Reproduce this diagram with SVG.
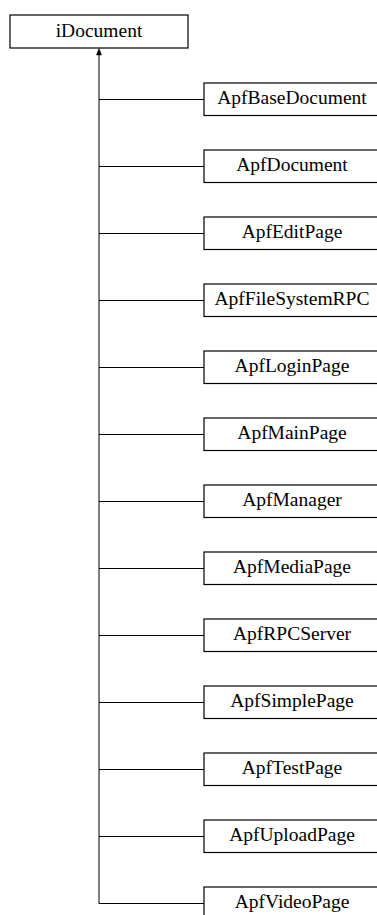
<svg xmlns="http://www.w3.org/2000/svg" width="377" height="915" viewBox="0 0 377 915">
<style>
.box{fill:#fff;stroke:#000;stroke-width:1.2}
.t{font-family:"Liberation Serif","Times New Roman",serif;font-size:19.5px;fill:#000;text-anchor:middle}
.c{stroke:#000;stroke-width:1;fill:none}
.ah{fill:#000;stroke:#000;stroke-width:0.5}
</style>
<g id="connectors">
<path class="c" d="M99,903.5 V54"/>
<polygon class="ah" points="99,48.5 96.5,55 101.5,55"/>
<path class="c" d="M99,99.5 H204 M99,166.5 H204 M99,233.5 H204 M99,300.5 H204 M99,367.5 H204 M99,434.5 H204 M99,501.5 H204 M99,568.5 H204 M99,635.5 H204 M99,702.5 H204 M99,769.5 H204 M99,836.5 H204 M99,903.5 H204"/>
</g>
<g id="iDocument"><rect class="box" x="10" y="15" width="178" height="33"/><text class="t" x="99" y="36.5">iDocument</text></g>
<g id="ApfBaseDocument"><rect class="box" x="204" y="83" width="174" height="32.5"/><text class="t" x="292" y="104">ApfBaseDocument</text></g>
<g id="ApfDocument"><rect class="box" x="204" y="150" width="174" height="32.5"/><text class="t" x="292" y="171">ApfDocument</text></g>
<g id="ApfEditPage"><rect class="box" x="204" y="217" width="174" height="32.5"/><text class="t" x="292" y="238">ApfEditPage</text></g>
<g id="ApfFileSystemRPC"><rect class="box" x="204" y="284" width="174" height="32.5"/><text class="t" x="292" y="305">ApfFileSystemRPC</text></g>
<g id="ApfLoginPage"><rect class="box" x="204" y="351" width="174" height="32.5"/><text class="t" x="292" y="372">ApfLoginPage</text></g>
<g id="ApfMainPage"><rect class="box" x="204" y="418" width="174" height="32.5"/><text class="t" x="292" y="439">ApfMainPage</text></g>
<g id="ApfManager"><rect class="box" x="204" y="485" width="174" height="32.5"/><text class="t" x="292" y="506">ApfManager</text></g>
<g id="ApfMediaPage"><rect class="box" x="204" y="552" width="174" height="32.5"/><text class="t" x="292" y="573">ApfMediaPage</text></g>
<g id="ApfRPCServer"><rect class="box" x="204" y="619" width="174" height="32.5"/><text class="t" x="292" y="640">ApfRPCServer</text></g>
<g id="ApfSimplePage"><rect class="box" x="204" y="686" width="174" height="32.5"/><text class="t" x="292" y="707">ApfSimplePage</text></g>
<g id="ApfTestPage"><rect class="box" x="204" y="753" width="174" height="32.5"/><text class="t" x="292" y="774">ApfTestPage</text></g>
<g id="ApfUploadPage"><rect class="box" x="204" y="820" width="174" height="32.5"/><text class="t" x="292" y="841">ApfUploadPage</text></g>
<g id="ApfVideoPage"><rect class="box" x="204" y="887" width="174" height="32.5"/><text class="t" x="292" y="908">ApfVideoPage</text></g>
</svg>
